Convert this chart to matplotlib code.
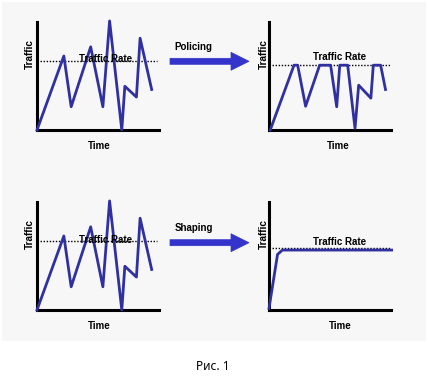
import matplotlib
matplotlib.use("Agg")
import matplotlib.pyplot as plt
from matplotlib.patches import Rectangle, Polygon

# ---- data ----
time_in = [0, 2.2, 2.8, 4.4, 5.4, 5.95, 6.95, 7.2, 8.15, 8.45, 9.4]
traffic_in = [0, 6.85, 2.15, 7.7, 2.15, 10.1, 0, 4.05, 3.05, 8.5, 3.75]

time_pol = [0.1, 2.05, 2.35, 3.0, 4.15, 5.05, 5.55, 5.8, 6.45, 7.05, 7.35, 8.35, 8.55, 9.15, 9.55]
traffic_pol = [0, 6.0, 6.0, 2.2, 6.0, 6.0, 2.15, 6.0, 6.0, 0.15, 4.15, 2.95, 6.0, 6.0, 3.75]

time_shp = [0, 0.7, 1.1, 10.05]
traffic_shp = [0.15, 5.15, 5.55, 5.55]

rate_in = 6.4
rate_pol = 6.0
rate_shp = 5.75

labels = {"x": "Time", "y": "Traffic", "rate": "Traffic Rate"}
actions = ["Policing", "Shaping"]
caption = "Рис. 1"

W, H = 428, 384
fig = plt.figure(figsize=(W / 100, H / 100), dpi=100)
fig.patch.set_facecolor("white")

# background / overlay axes in pixel coordinates
bg = fig.add_axes([0, 0, 1, 1], zorder=0)
bg.set_xlim(0, W)
bg.set_ylim(H, 0)
bg.axis("off")
bg.add_patch(Rectangle((2, 2), 424, 339, facecolor="#f7f7f7", edgecolor="none"))

LINE = "#3030a0"
ARROW = "#3434cc"
FONT = "Liberation Sans"

def panel(rect, t, v, rate, rate_end, rate_lbl_x, rate_lbl_y, ylab_x, tlab_x):
    ax = fig.add_axes(rect, zorder=2)
    ax.set_xlim(0, 10)
    ax.set_ylim(0, 10)
    ax.patch.set_alpha(0)
    for s in ["top", "right"]:
        ax.spines[s].set_visible(False)
    for s in ["left", "bottom"]:
        ax.spines[s].set_linewidth(2.2)
        ax.spines[s].set_color("black")
    ax.set_xticks([])
    ax.set_yticks([])
    ax.plot([0, rate_end], [rate, rate], color="black", lw=1.0, ls=(0, (1, 1.2)), clip_on=False, zorder=1)
    ax.plot(t, v, color=LINE, lw=2.0, clip_on=False, zorder=3)
    ax.text(rate_lbl_x, rate_lbl_y, labels["rate"], ha="center", va="baseline",
            fontsize=7, fontweight="bold", family=FONT, zorder=4)
    ax.text(ylab_x, 7.0, labels["y"], ha="center", va="center", rotation=90,
            fontsize=7.2, fontweight="bold", family=FONT)
    ax.text(tlab_x, -1.5, labels["x"], ha="center", va="center",
            fontsize=7, fontweight="bold", family=FONT)
    return ax

lx, rx, w = 37 / W, 269 / W, 122 / W
ty, by, h = 1 - 130 / H, 1 - 310 / H, 108 / H

panel([lx, ty, w, h], time_in, traffic_in, rate_in, 9.8, 5.66, 6.25, -0.6, 5.1)
panel([rx, ty, w, h], time_pol, traffic_pol, rate_pol, 10.0, 5.8, 6.45, -0.38, 5.7)
panel([lx, by, w, h], time_in, traffic_in, rate_in, 9.8, 5.66, 6.2, -0.6, 5.1)
panel([rx, by, w, h], time_shp, traffic_shp, rate_shp, 10.0, 5.8, 5.98, -0.38, 5.8)

def arrow(yc, label, base):
    x0, xh, x1 = 170, 231, 249
    sw, hw = 3.0, 9.0
    pts = [(x0, yc - sw), (xh, yc - sw), (xh, yc - hw), (x1, yc),
           (xh, yc + hw), (xh, yc + sw), (x0, yc + sw)]
    bg.add_patch(Polygon(pts, closed=True, facecolor=ARROW, edgecolor=ARROW, lw=0.5))
    bg.text(193.5, base, label, ha="center", va="baseline", fontsize=7,
            fontweight="bold", family=FONT)

arrow(61.3, actions[0], 50.5)
arrow(242.7, actions[1], 231)

bg.text(212.5, 370.5, caption, ha="center", va="baseline", fontsize=8.5, family="Noto Sans")

fig.savefig("out.png", dpi=100, facecolor="white")
